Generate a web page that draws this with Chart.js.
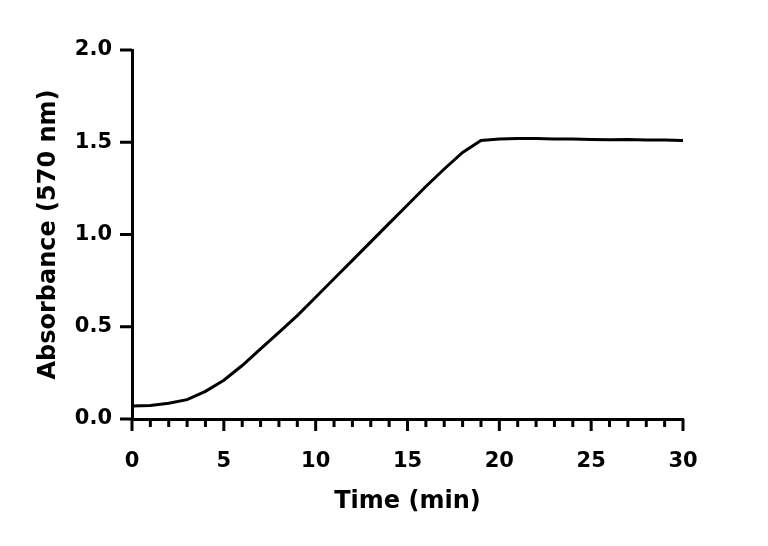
<!DOCTYPE html>
<html><head><script src="https://cdn.jsdelivr.net/npm/chart.js"></script>
<style>body{margin:0;background:#fff}#w{width:768px;height:546px}</style></head>
<body><div id="w"><canvas id="c"></canvas></div>
<script>
const times=[0,1,2,3,4,5,6,7,8,9,10,11,12,13,14,15,16,17,18,19,20,21,22,23,24,25,26,27,28,29,30];
const absorbance=[0.07,0.073,0.085,0.105,0.15,0.21,0.29,0.38,0.47,0.56,0.66,0.76,0.86,0.96,1.06,1.16,1.26,1.355,1.445,1.51,1.517,1.52,1.52,1.518,1.517,1.515,1.513,1.515,1.512,1.512,1.51];
const yTicks=[0,0.5,1.0,1.5,2.0];
const F='"DejaVu Sans", sans-serif';
const tickPlugin={id:'tp',afterDraw(ch){
 const c=ch.ctx,x=ch.scales.x,y=ch.scales.y,a=ch.chartArea;
 c.save();c.strokeStyle='#000';c.lineWidth=3;c.beginPath();
 for(let t=0;t<=30;t++){const px=x.getPixelForValue(t);const L=t%5===0?12:8;c.moveTo(px,a.bottom);c.lineTo(px,a.bottom+L);}
 yTicks.forEach(v=>{const py=y.getPixelForValue(v);c.moveTo(a.left,py);c.lineTo(a.left-12,py);});
 c.stroke();c.restore();}};
new Chart(document.getElementById('c'),{type:'line',
data:{datasets:[{data:times.map((t,i)=>({x:t,y:absorbance[i]})),borderColor:'#000',borderWidth:3,pointRadius:0,tension:0}]},
options:{responsive:true,maintainAspectRatio:false,animation:false,
layout:{padding:{top:50,right:85,left:34,bottom:30}},
plugins:{legend:{display:false},tooltip:{enabled:false}},
scales:{
x:{type:'linear',min:0,max:30,afterFit(s){s.height=97;},
 grid:{display:false,drawTicks:false},border:{display:true,color:'#000',width:3},
 ticks:{stepSize:5,padding:30,color:'#000',font:{family:F,size:21,weight:'bold'}},
 title:{display:true,text:'Time (min)',color:'#000',font:{family:F,size:24,weight:'bold'},padding:{top:12,bottom:0}}},
y:{min:0,max:2,afterFit(s){s.width=98;},
 grid:{display:false,drawTicks:false},border:{display:true,color:'#000',width:3},
 ticks:{stepSize:0.5,padding:20,color:'#000',font:{family:F,size:21,weight:'bold'},callback:v=>v.toFixed(1)},
 title:{display:true,text:'Absorbance (570 nm)',color:'#000',font:{family:F,size:24,weight:'bold'},padding:{top:0,bottom:4}}}
}},plugins:[tickPlugin]});
</script></body></html>
